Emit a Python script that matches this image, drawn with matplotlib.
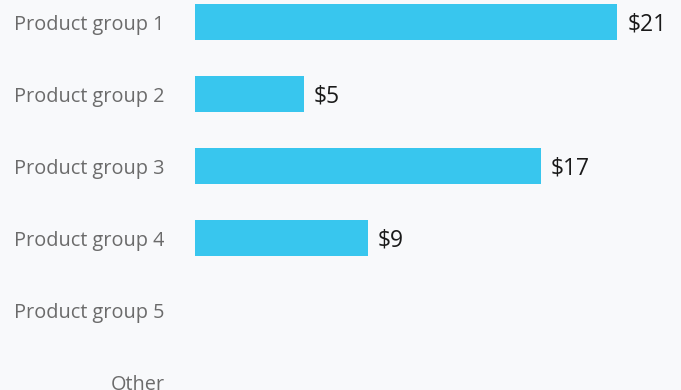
import matplotlib.pyplot as plt

categories = ["Product group 1", "Product group 2", "Product group 3",
              "Product group 4", "Product group 5", "Other"]
values = [21.0, 5.4, 17.2, 8.6, 0, 0]
labels = ["$21", "$5", "$17", "$9", "", ""]

plt.rcParams['font.family'] = ['Open Sans', 'DejaVu Sans']
bg = '#f8f9fb'

fig = plt.figure(figsize=(6.81, 3.90), dpi=100, facecolor=bg)
ax = fig.add_axes([195/681, 0, 486/681, 1], facecolor=bg)

ypos = list(range(len(categories)))
ax.barh(ypos, values, height=0.5, color='#38c6ee')
for y, v, t in zip(ypos, values, labels):
    if t:
        ax.text(v + 0.5, y + 0.03, t, va='center', ha='left', fontsize=16.5, color='#1a1a1a')

ax.set_ylim(5.111, -0.3056)
ax.set_xlim(0, 24.18)
ax.set_yticks(ypos)
ax.set_yticklabels(categories, fontsize=14.3, color='#6b6b6b')
ax.tick_params(axis='y', length=0, pad=22)
ax.set_xticks([])
for s in ax.spines.values():
    s.set_visible(False)

fig.savefig('out.png', dpi=100, facecolor=bg)
